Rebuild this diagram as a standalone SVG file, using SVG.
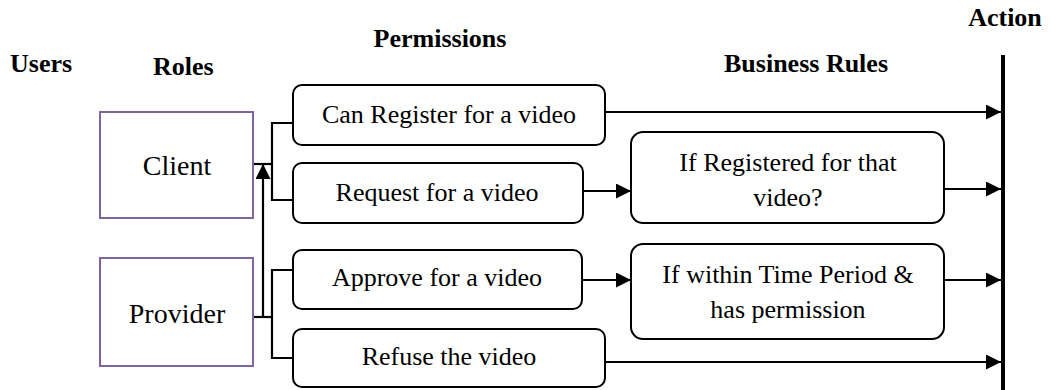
<svg xmlns="http://www.w3.org/2000/svg" width="1051" height="390" viewBox="0 0 1051 390">
  <style>
    .hdr { font-family: "Liberation Serif", "Times New Roman", serif; font-weight: bold; font-size: 26px; fill: #000; }
    .txt { font-family: "Liberation Serif", "Times New Roman", serif; font-size: 26px; fill: #000; text-anchor: middle; }
    .role-txt { font-size: 28px; }
    .role { fill: #fff; stroke: #8064A2; stroke-width: 2; }
    .box { fill: #fff; stroke: #000; stroke-width: 2; }
    .wire { fill: none; stroke: #000; stroke-width: 2.2; }
  </style>
  <defs>
    <marker id="arrow" viewBox="0 0 10 10" refX="10" refY="5" markerWidth="15" markerHeight="15" markerUnits="userSpaceOnUse" orient="auto">
      <path d="M0,0 L10,5 L0,10 Z" fill="#000"/>
    </marker>
  </defs>

  <rect width="1051" height="390" fill="#fff"/>

  <!-- column headings -->
  <g id="headings">
    <text class="hdr" x="10" y="72">Users</text>
    <text class="hdr" x="153" y="75">Roles</text>
    <text class="hdr" x="440" y="47" text-anchor="middle">Permissions</text>
    <text class="hdr" x="806" y="72" text-anchor="middle">Business Rules</text>
    <text class="hdr" x="1005" y="26" text-anchor="middle">Action</text>
  </g>

  <!-- action bar -->
  <g id="action-bar">
    <line x1="1003" y1="55" x2="1003" y2="390" stroke="#000" stroke-width="4"/>
  </g>

  <g id="connectors">
    <!-- Client fan-out -->
    <polyline class="wire" points="253,164 272,164"/>
    <polyline class="wire" points="293,123 272,123 272,200 293,200"/>
    <!-- Provider fan-out -->
    <polyline class="wire" points="253,317 272,317"/>
    <polyline class="wire" points="293,270 272,270 272,358 293,358"/>
    <!-- Provider inherits Client -->
    <line class="wire" x1="263" y1="317" x2="263" y2="164" marker-end="url(#arrow)"/>
    <!-- permissions to rules / action -->
    <line class="wire" x1="605" y1="112" x2="1001" y2="112" marker-end="url(#arrow)"/>
    <line class="wire" x1="583" y1="191" x2="631" y2="191" marker-end="url(#arrow)"/>
    <line class="wire" x1="944" y1="189" x2="1001" y2="189" marker-end="url(#arrow)"/>
    <line class="wire" x1="582" y1="280" x2="631" y2="280" marker-end="url(#arrow)"/>
    <line class="wire" x1="944" y1="280" x2="1001" y2="280" marker-end="url(#arrow)"/>
    <line class="wire" x1="605" y1="362" x2="1001" y2="362" marker-end="url(#arrow)"/>
  </g>

  <!-- roles -->
  <g id="client">
    <rect class="role" x="100" y="112" width="153" height="106"/>
    <text class="txt role-txt" x="177" y="175">Client</text>
  </g>
  <g id="provider">
    <rect class="role" x="100" y="258" width="153" height="108"/>
    <text class="txt role-txt" x="177" y="323">Provider</text>
  </g>

  <!-- permissions -->
  <g id="perm-register">
    <rect class="box" x="293" y="85" width="312" height="60" rx="9"/>
    <text class="txt" x="449" y="123">Can Register for a video</text>
  </g>
  <g id="perm-request">
    <rect class="box" x="293" y="163" width="290" height="60" rx="9"/>
    <text class="txt" x="437" y="201">Request for a video</text>
  </g>
  <g id="perm-approve">
    <rect class="box" x="293" y="250" width="289" height="59" rx="9"/>
    <text class="txt" x="437" y="286">Approve for a video</text>
  </g>
  <g id="perm-refuse">
    <rect class="box" x="293" y="329" width="312" height="58" rx="9"/>
    <text class="txt" x="449" y="365">Refuse the video</text>
  </g>

  <!-- business rules -->
  <g id="rule-registered">
    <rect class="box" x="631" y="132" width="313" height="91" rx="12"/>
    <text class="txt" x="788" y="171">If Registered for that</text>
    <text class="txt" x="788" y="206">video?</text>
  </g>
  <g id="rule-time">
    <rect class="box" x="631" y="244" width="313" height="95" rx="12"/>
    <text class="txt" x="788" y="283">If within Time Period &amp;</text>
    <text class="txt" x="788" y="318">has permission</text>
  </g>
</svg>
